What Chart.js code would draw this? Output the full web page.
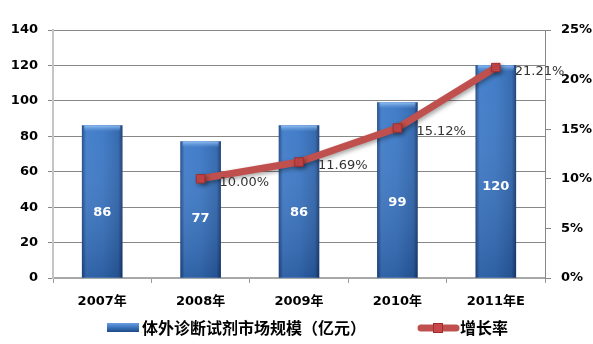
<!DOCTYPE html>
<html>
<head>
<meta charset="utf-8">
<script src="https://cdn.jsdelivr.net/npm/chart.js@4/dist/chart.umd.min.js"></script>
<style>
  html, body { margin: 0; padding: 0; background: #ffffff; }
  #wrap { width: 593px; height: 344px; position: relative; }
</style>
</head>
<body>
<div id="wrap"><canvas id="c" width="593" height="344"></canvas></div>
<script>
// 体外诊断试剂市场规模 与 增长率
const categories = ['2007年', '2008年', '2009年', '2010年', '2011年E'];
const marketSize = [86, 77, 86, 99, 120];            // 亿元
const growthRate = [null, 10.00, 11.69, 15.12, 21.21]; // %
const sizeTicks = [0, 20, 40, 60, 80, 100, 120, 140];
const rateTicks = [0, 5, 10, 15, 20, 25];
const sizeLabel = '体外诊断试剂市场规模（亿元）';
const rateLabel = '增长率';

const LATIN = '"DejaVu Sans", "Noto Sans CJK SC", sans-serif';
const CJK = '"Noto Sans CJK SC", "DejaVu Sans", sans-serif';
const RED = '#c0504d';

function barFill(ctx) {
  const chart = ctx.chart;
  if (!chart.chartArea || ctx.type !== 'data') return '#3a76c4';
  const x = chart.scales.x.getPixelForValue(ctx.dataIndex);
  const g = chart.ctx.createLinearGradient(x - 20, 0, x + 20, 0);
  g.addColorStop(0, '#234c8a');
  g.addColorStop(0.1, '#3f7cca');
  g.addColorStop(0.5, '#3a77c5');
  g.addColorStop(0.9, '#2e65ad');
  g.addColorStop(1, '#1a3e74');
  return g;
}

// bevel shading on the bars and shadow on the line
const effects = {
  id: 'effects',
  beforeDatasetDraw(chart, args) {
    if (chart.data.datasets[args.index].type === 'line') {
      const c = chart.ctx;
      c.save();
      c.shadowColor = 'rgba(0,0,0,0.35)';
      c.shadowBlur = 4;
      c.shadowOffsetX = 2;
      c.shadowOffsetY = 2;
    }
  },
  afterDatasetDraw(chart, args) {
    const ds = chart.data.datasets[args.index];
    const c = chart.ctx;
    if (ds.type === 'line') { c.restore(); return; }
    args.meta.data.forEach(bar => {
      const left = bar.x - bar.width / 2, top = bar.y, h = bar.base - bar.y;
      const v = c.createLinearGradient(0, top, 0, bar.base);
      v.addColorStop(0, 'rgba(255,255,255,0.04)');
      v.addColorStop(1, 'rgba(0,10,40,0.22)');
      c.fillStyle = v;
      c.fillRect(left, top, bar.width, h);
      const t = c.createLinearGradient(0, top, 0, top + 6);
      t.addColorStop(0, 'rgba(150,195,245,0.9)');
      t.addColorStop(1, 'rgba(110,160,225,0)');
      c.fillStyle = t;
      c.fillRect(left + 2, top, bar.width - 4, 6);
    });
  }
};

// value labels for bars and points
const valueLabels = {
  id: 'valueLabels',
  afterDatasetsDraw(chart) {
    const c = chart.ctx;
    c.save();
    chart.data.datasets.forEach((ds, i) => {
      const meta = chart.getDatasetMeta(i);
      meta.data.forEach((el, j) => {
        const v = ds.data[j];
        if (v === null || v === undefined) return;
        if (ds.type === 'bar') {
          c.font = 'bold 13px ' + LATIN;
          c.fillStyle = '#ffffff';
          c.textAlign = 'center';
          c.textBaseline = 'middle';
          c.fillText(String(v), el.x, el.base - 0.43 * (el.base - el.y));
        } else {
          c.font = '13px ' + LATIN;
          c.fillStyle = '#333333';
          c.textAlign = 'left';
          c.textBaseline = 'middle';
          c.fillText(v.toFixed(2) + '%', el.x + 19, el.y + 4);
        }
      });
    });
    c.restore();
  }
};

// legend row under the axis
const legendRow = {
  id: 'legendRow',
  afterDraw(chart) {
    const c = chart.ctx;
    c.save();
    const y = 328;
    // bar swatch
    const g = c.createLinearGradient(0, y - 5, 0, y + 4);
    g.addColorStop(0, '#6a9ee0');
    g.addColorStop(0.5, '#3b73bd');
    g.addColorStop(1, '#1f4a86');
    c.fillStyle = g;
    c.fillRect(107, y - 5, 32, 9);
    c.font = 'bold 16px ' + CJK;
    c.fillStyle = '#000000';
    c.textAlign = 'left';
    c.textBaseline = 'middle';
    c.fillText(sizeLabel, 142, y);
    // line swatch
    c.strokeStyle = RED;
    c.lineWidth = 7;
    c.lineCap = 'round';
    c.beginPath();
    c.moveTo(421, y);
    c.lineTo(456, y);
    c.stroke();
    c.fillStyle = '#c8474a';
    c.strokeStyle = '#9c2f2e';
    c.lineWidth = 1;
    c.fillRect(433, y - 5, 10, 10);
    c.strokeRect(433.5, y - 4.5, 9, 9);
    c.fillStyle = '#000000';
    c.fillText(rateLabel, 460, y);
    c.restore();
  }
};

new Chart(document.getElementById('c'), {
  data: {
    labels: categories,
    datasets: [
      {
        type: 'line',
        label: rateLabel,
        data: growthRate,
        yAxisID: 'y1',
        order: 0,
        borderColor: RED,
        borderWidth: 7,
        tension: 0,
        pointStyle: 'rect',
        pointRadius: 6,
        pointBackgroundColor: '#c8474a',
        pointBorderColor: '#9c2f2e',
        pointBorderWidth: 1
      },
      {
        type: 'bar',
        label: sizeLabel,
        data: marketSize,
        yAxisID: 'y',
        order: 1,
        barThickness: 40,
        backgroundColor: barFill,
        borderWidth: 0
      }
    ]
  },
  options: {
    responsive: false,
    animation: false,
    events: [],
    layout: { padding: { top: 30, left: 0, right: 0, bottom: 0 } },
    plugins: { legend: { display: false }, tooltip: { enabled: false } },
    scales: {
      x: {
        type: 'category',
        offset: true,
        grid: { offset: true, drawOnChartArea: false, drawTicks: true, tickLength: 5, color: '#9a9a9a' },
        border: { color: '#a8a8a8', width: 2 },
        ticks: { font: { family: LATIN, size: 13, weight: 'bold' }, color: '#000', padding: 11, maxRotation: 0 },
        afterFit(s) { s.height = 66; }
      },
      y: {
        position: 'left',
        min: sizeTicks[0],
        max: sizeTicks[sizeTicks.length - 1],
        afterBuildTicks(s) { s.ticks = sizeTicks.map(v => ({ value: v })); },
        grid: { color: '#878787', tickLength: 5, drawTicks: true },
        border: { color: '#c4c4c4', width: 2 },
        ticks: { font: { family: LATIN, size: 13, weight: 'bold' }, color: '#000', padding: 10 },
        afterFit(s) { s.width = 53; }
      },
      y1: {
        position: 'right',
        min: rateTicks[0],
        max: rateTicks[rateTicks.length - 1],
        afterBuildTicks(s) { s.ticks = rateTicks.map(v => ({ value: v })); },
        grid: { drawOnChartArea: false, color: '#878787', tickLength: 6, drawTicks: true },
        border: { color: '#878787', width: 1 },
        ticks: { font: { family: LATIN, size: 13, weight: 'bold' }, color: '#000', padding: 10, callback: v => v + '%' },
        afterFit(s) { s.width = 48; }
      }
    }
  },
  plugins: [effects, valueLabels, legendRow]
});
</script>
</body>
</html>
